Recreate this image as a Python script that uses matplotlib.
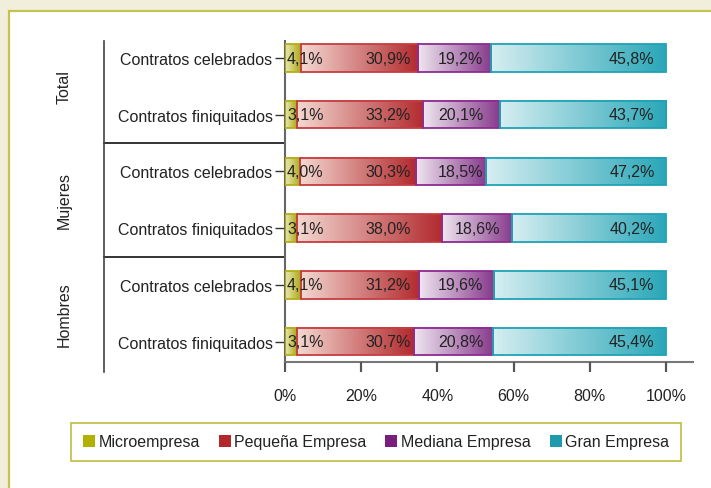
import numpy as np
import matplotlib
matplotlib.use("Agg")
import matplotlib.pyplot as plt
from matplotlib.colors import LinearSegmentedColormap
from matplotlib.patches import Rectangle, Patch
import matplotlib.transforms as mtransforms

# ---------------- data ----------------
groups = ["Total", "Mujeres", "Hombres"]
rows = ["Contratos celebrados", "Contratos finiquitados",
        "Contratos celebrados", "Contratos finiquitados",
        "Contratos celebrados", "Contratos finiquitados"]
series = ["Microempresa", "Pequeña Empresa", "Mediana Empresa", "Gran Empresa"]
micro = [4.1, 3.1, 4.0, 3.1, 4.1, 3.1]
pequena = [30.9, 33.2, 30.3, 38.0, 31.2, 30.7]
mediana = [19.2, 20.1, 18.5, 18.6, 19.6, 20.8]
gran = [45.8, 43.7, 47.2, 40.2, 45.1, 45.4]
xticks = [0, 20, 40, 60, 80, 100]
xticklabels = ["0%", "20%", "40%", "60%", "80%", "100%"]

# ---------------- style ----------------
plt.rcParams['font.family'] = ['Liberation Sans', 'DejaVu Sans']
FS = 11.5
TXT = "#222222"
legend_colors = ["#B2B000", "#B3282D", "#7A1E7E", "#1D9AAE"]
grad_light = ["#ECEBB2", "#F4D8D1", "#EFE6F0", "#D6EEF1"]
grad_dark = ["#ABA81A", "#B22A2E", "#873A8C", "#2AA7B8"]
edge_colors = ["#B2AE16", "#C63C41", "#8E2A92", "#1FA3B5"]
OLIVE = "#C5C24F"
XMAX = 107.1

W, H = 711, 489
fig = plt.figure(figsize=(W / 100, H / 100), dpi=100)
fig.patch.set_facecolor("#F1EFDB")

# white inner panel
panel = Rectangle((9 / W, -0.5), 2.0, (H - 12) / H + 0.5, transform=fig.transFigure,
                  facecolor="white", edgecolor=OLIVE, lw=1.6, zorder=-5)
fig.patches.append(panel)

ax = fig.add_axes([285 / W, (H - 363) / H, 408 / W, 321 / H])
ax.set_facecolor("none")
ax.set_zorder(2)

data = np.array([micro, pequena, mediana, gran])
y = np.arange(len(rows))
bh = 0.485
grad = np.linspace(0, 1, 256).reshape(1, -1)

lefts = np.zeros(len(rows))
for k in range(len(series)):
    cmap = LinearSegmentedColormap.from_list(f"c{k}", [grad_light[k], grad_dark[k]])
    vals = data[k]
    for i in range(len(rows)):
        l, w = lefts[i], vals[i]
        ax.imshow(grad, extent=[l, l + w, y[i] + bh / 2, y[i] - bh / 2], cmap=cmap,
                  aspect='auto', zorder=2, interpolation='bilinear')
    ax.barh(y, vals, left=lefts, height=bh, facecolor='none',
            edgecolor=edge_colors[k], lw=1.3, zorder=3)
    lefts = lefts + vals

# value labels
fmt = lambda v: f"{v:.1f}".replace('.', ',') + '%'
px = 381 / 100.0  # pixels per percent
cum = np.cumsum(data, axis=0)
starts = cum - data
for k in range(len(series)):
    for i in range(len(rows)):
        if k == 0:
            ax.text(starts[k, i] + 2 / px, y[i], fmt(data[k, i]), ha='left', va='center',
                    fontsize=FS, color=TXT, zorder=5)
        else:
            col = cum[k].min() - (3 / px if k < 3 else 11 / px)
            xr = max(col, starts[k, i] + 15.3)
            ax.text(xr, y[i], fmt(data[k, i]), ha='right', va='center',
                    fontsize=FS, color=TXT, zorder=5)

ax.set_xlim(0, XMAX)
ax.set_ylim(5.36, -0.3)
ax.set_xticks(xticks)
ax.set_xticklabels(xticklabels, fontsize=FS, color=TXT)
ax.set_yticks(y)
ax.set_yticklabels(rows, fontsize=FS, color=TXT)
ax.tick_params(axis='x', length=7, width=1.5, color="#555555", pad=12)
ax.tick_params(axis='y', length=7, width=1.0, color="#333333", pad=2)
for s in ["top", "right"]:
    ax.spines[s].set_visible(False)
ax.spines["left"].set_color("#666666")
ax.spines["left"].set_linewidth(1.5)
ax.spines["bottom"].set_color("#777777")
ax.spines["bottom"].set_linewidth(1.5)

# separate thin strip axes holding the outward x tick marks (drawn on top)
tax = fig.add_axes([285 / W, (H - 373) / H, 408 / W, 10 / H])
tax.set_zorder(20)
tax.set_facecolor("none")
tax.set_xlim(0, XMAX)
tax.set_ylim(0, 1)
tax.vlines(xticks, 0, 1, colors="#555555", lw=1.5)
tax.axis("off")

# group brackets
xl = (104 - 285) / 408
tick_len = 10 / 321
blend = mtransforms.blended_transform_factory(ax.transAxes, ax.transData)
for yy in [1.5, 3.5]:
    ax.plot([xl, 0], [yy, yy], transform=blend, color="#111111", lw=1.2, clip_on=False)
ax.plot([xl, xl], [1.0, -tick_len], transform=ax.transAxes, color="#444444",
        lw=1.2, clip_on=False)
xg = (64 - 285) / 408
for g, name in enumerate(groups):
    ax.text(xg, 2 * g + 0.5, name, transform=blend, rotation=90, ha='center', va='center',
            fontsize=FS, color=TXT)

# legend
handles = [Patch(facecolor=c, edgecolor='none') for c in legend_colors]
leg = fig.legend(handles, series, loc='center', ncol=4, mode='expand',
                 bbox_to_anchor=(71 / W, (H - 463) / H, 610 / W, 40 / H),
                 bbox_transform=fig.transFigure, frameon=True, fancybox=False,
                 edgecolor=OLIVE, framealpha=1, facecolor='white',
                 handlelength=0.75, handleheight=0.75, handletextpad=0.22,
                 borderpad=0.75, fontsize=FS, borderaxespad=0)
leg.get_frame().set_linewidth(1.3)
for t in leg.get_texts():
    t.set_color(TXT)

fig.savefig("out.png", dpi=100, facecolor=fig.get_facecolor())
